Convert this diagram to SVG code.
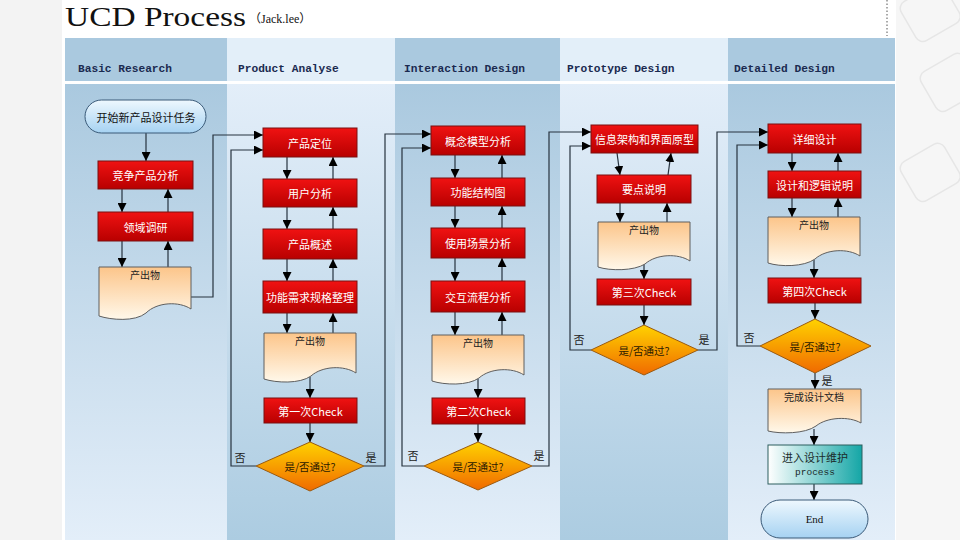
<svg xmlns="http://www.w3.org/2000/svg" width="960" height="540" viewBox="0 0 960 540">
<defs>
<linearGradient id="red" x1="0" y1="0" x2="0" y2="1"><stop offset="0" stop-color="#f01212"/><stop offset="1" stop-color="#b80000"/></linearGradient>
<linearGradient id="doc" x1="0" y1="0" x2="0" y2="1"><stop offset="0" stop-color="#fcc58a"/><stop offset="1" stop-color="#fff8ea"/></linearGradient>
<linearGradient id="dia" x1="0" y1="0" x2="0" y2="1"><stop offset="0" stop-color="#ffd200"/><stop offset="1" stop-color="#f06a00"/></linearGradient>
<linearGradient id="term" x1="0" y1="0" x2="0" y2="1"><stop offset="0" stop-color="#eef8fe"/><stop offset="1" stop-color="#a6d2f2"/></linearGradient>
<linearGradient id="teal" x1="0" y1="0" x2="1" y2="0"><stop offset="0" stop-color="#ffffff"/><stop offset="1" stop-color="#14a6a6"/></linearGradient>
<linearGradient id="colA" x1="0" y1="0" x2="0" y2="1"><stop offset="0" stop-color="#aac9df"/><stop offset="1" stop-color="#e3eef9"/></linearGradient>
<linearGradient id="colB" x1="0" y1="0" x2="0" y2="1"><stop offset="0" stop-color="#e3eef9"/><stop offset="1" stop-color="#acccE1"/></linearGradient>
<marker id="ah" viewBox="0 0 10 10" refX="10" refY="5" markerWidth="9" markerHeight="9" markerUnits="userSpaceOnUse" orient="auto"><path d="M0,0 L10,5 L0,10 Z" fill="#000"/></marker>
<style>
.box{fill:url(#red);stroke:#7a1010;stroke-width:1}
.doc{fill:url(#doc);stroke:#5e5e5e;stroke-width:1}
.dia{fill:url(#dia);stroke:#9a5a10;stroke-width:1}
.term{fill:url(#term);stroke:#3a5a78;stroke-width:1}
.bt{fill:#fff;font-family:"Noto Sans CJK SC","Liberation Sans",sans-serif;font-size:11px;text-anchor:middle;dominant-baseline:central}
.dt{fill:#222;font-family:"Noto Sans CJK SC","Liberation Sans",sans-serif;font-size:10px;text-anchor:middle}
.kt{fill:#2a1a00;font-family:"Noto Sans CJK SC","Liberation Sans",sans-serif;font-size:10.5px;text-anchor:middle;dominant-baseline:central}
.lb{fill:#222;font-family:"Noto Sans CJK SC","Liberation Sans",sans-serif;font-size:11px;text-anchor:middle}
.hd{fill:#1a2a50;font-family:"Liberation Mono",monospace;font-size:11.2px;font-weight:bold}
.a{fill:none;stroke:#26323e;stroke-width:1.2;marker-end:url(#ah)}
</style>
</defs>

<!-- page background -->
<rect x="0" y="0" width="960" height="540" fill="#ffffff"/>
<rect x="0" y="0" width="62" height="540" fill="#f3f3f3"/>
<rect x="896" y="0" width="64" height="540" fill="#f6f6f6"/>
<g fill="none" stroke="#e6e6e6" stroke-width="1.5">
<rect x="905" y="-10" width="50" height="45" rx="8" transform="rotate(-30 930 12)"/>
<rect x="925" y="60" width="50" height="45" rx="8" transform="rotate(-30 950 82)"/>
<rect x="905" y="150" width="50" height="45" rx="8" transform="rotate(-30 930 172)"/>
</g>
<line x1="887" y1="0" x2="887" y2="36" stroke="#555" stroke-width="1" stroke-dasharray="1.5,2"/>

<!-- title -->
<text x="65" y="26" font-family="Liberation Serif,serif" font-size="28" fill="#111" textLength="181" lengthAdjust="spacingAndGlyphs">UCD Process</text>
<text x="249" y="23" font-family="Liberation Serif,'Noto Sans CJK SC',serif" font-size="12" fill="#111">（Jack.lee）</text>

<!-- swimlanes -->
<g id="lanes">
<rect x="65" y="38" width="162" height="43" fill="#aac9df"/>
<rect x="227" y="38" width="168" height="43" fill="#e3eff9"/>
<rect x="395" y="38" width="165" height="43" fill="#aac9df"/>
<rect x="560" y="38" width="168" height="43" fill="#e3eff9"/>
<rect x="728" y="38" width="167" height="43" fill="#aac9df"/>
<rect x="65" y="84" width="162" height="456" fill="url(#colA)"/>
<rect x="227" y="84" width="168" height="456" fill="url(#colB)"/>
<rect x="395" y="84" width="165" height="456" fill="url(#colA)"/>
<rect x="560" y="84" width="168" height="456" fill="url(#colB)"/>
<rect x="728" y="84" width="167" height="456" fill="url(#colA)"/>
<text class="hd" x="78" y="72">Basic Research</text>
<text class="hd" x="238" y="72">Product Analyse</text>
<text class="hd" x="404" y="72">Interaction Design</text>
<text class="hd" x="567" y="72">Prototype Design</text>
<text class="hd" x="734" y="72">Detailed Design</text>
</g>

<!-- connectors -->
<g id="connectors">
<path class="a" d="M146,133 V161"/>
<path class="a" d="M122,189 V212"/>
<path class="a" d="M168,212 V189"/>
<path class="a" d="M122,241 V267"/>
<path class="a" d="M168,267 V241"/>
<path class="a" d="M191,297 H213 V135 H263"/>

<path class="a" d="M287,157 V179"/>
<path class="a" d="M333,179 V157"/>
<path class="a" d="M287,207 V229"/>
<path class="a" d="M333,229 V207"/>
<path class="a" d="M287,259 V281"/>
<path class="a" d="M333,281 V259"/>
<path class="a" d="M287,313 V333"/>
<path class="a" d="M333,333 V313"/>
<path class="a" d="M310,377 V398"/>
<path class="a" d="M310,423 V442"/>
<path class="a" d="M256,466 H231 V150 H263"/>
<path class="a" d="M364,466 H385 V134 H431"/>

<path class="a" d="M455,155 V178"/>
<path class="a" d="M502,178 V155"/>
<path class="a" d="M455,206 V228"/>
<path class="a" d="M502,228 V206"/>
<path class="a" d="M455,258 V281"/>
<path class="a" d="M502,281 V258"/>
<path class="a" d="M455,312 V335"/>
<path class="a" d="M502,335 V312"/>
<path class="a" d="M478,379 V398"/>
<path class="a" d="M478,424 V442"/>
<path class="a" d="M424,466 H402 V148 H431"/>
<path class="a" d="M532,466 H549 V132 H591"/>

<path class="a" d="M617,153 L620,175"/>
<path class="a" d="M668,175 L671,153"/>
<path class="a" d="M620,203 V222"/>
<path class="a" d="M667,222 V203"/>
<path class="a" d="M644,264 V279"/>
<path class="a" d="M644,305 V325"/>
<path class="a" d="M591,350 H570 V146 H591"/>
<path class="a" d="M698,350 H717 V132 H768"/>

<path class="a" d="M792,153 V171"/>
<path class="a" d="M838,171 V153"/>
<path class="a" d="M792,198 V217"/>
<path class="a" d="M838,217 V198"/>
<path class="a" d="M814,260 V278"/>
<path class="a" d="M815,303 V319"/>
<path class="a" d="M760,346 H737 V145 H768"/>
<path class="a" d="M815,373 V389"/>
<path class="a" d="M814,429 V445"/>
<path class="a" d="M814,484 V500"/>

<text class="lb" x="240" y="462">否</text>
<text class="lb" x="371" y="462">是</text>
<text class="lb" x="413" y="460">否</text>
<text class="lb" x="539" y="460">是</text>
<text class="lb" x="579" y="344">否</text>
<text class="lb" x="704" y="344">是</text>
<text class="lb" x="749" y="342">否</text>
<text class="lb" x="827" y="385">是</text>
</g>

<!-- column 1 -->
<g id="start"><rect class="term" x="85" y="100" width="121" height="33" rx="16.5"/><text x="146" y="117" fill="#111" font-family="Noto Sans CJK SC,sans-serif" font-size="11" text-anchor="middle" dominant-baseline="central">开始新产品设计任务</text></g>
<g id="n_jingzheng"><rect class="box" x="98" y="161" width="95" height="28"/><text class="bt" x="145.5" y="175">竞争产品分析</text></g>
<g id="n_lingyu"><rect class="box" x="98" y="212" width="95" height="29"/><text class="bt" x="145.5" y="226.5">领域调研</text></g>
<g id="d_out1"><path class="doc" transform="translate(99,267)" d="M0,0 H92 V42 C80,34 58,35 47,46 C36,55 12,53 0,49 Z"/><text class="dt" x="145" y="279">产出物</text></g>

<!-- column 2 -->
<g id="n_dingwei"><rect class="box" x="263" y="128" width="94" height="29"/><text class="bt" x="310" y="142.5">产品定位</text></g>
<g id="n_yonghu"><rect class="box" x="263" y="179" width="94" height="28"/><text class="bt" x="310" y="193">用户分析</text></g>
<g id="n_gaishu"><rect class="box" x="263" y="229" width="94" height="30"/><text class="bt" x="310" y="244">产品概述</text></g>
<g id="n_guige"><rect class="box" x="263" y="281" width="94" height="32"/><text class="bt" x="310" y="297">功能需求规格整理</text></g>
<g id="d_out2"><path class="doc" transform="translate(264,333)" d="M0,0 H92 V40 C80,32 58,33 47,43 C36,51 12,50 0,46 Z"/><text class="dt" x="310" y="345">产出物</text></g>
<g id="n_check1"><rect class="box" x="264" y="398" width="93" height="25"/><text class="bt" x="310.5" y="410.5">第一次Check</text></g>
<g id="q1"><path class="dia" d="M310,442 L364,466 L310,491 L256,466 Z"/><text class="kt" x="310" y="466">是/否通过?</text></g>

<!-- column 3 -->
<g id="n_gainian"><rect class="box" x="431" y="126" width="94" height="29"/><text class="bt" x="478" y="140.5">概念模型分析</text></g>
<g id="n_jiegou"><rect class="box" x="431" y="178" width="94" height="28"/><text class="bt" x="478" y="192">功能结构图</text></g>
<g id="n_changjing"><rect class="box" x="431" y="228" width="94" height="30"/><text class="bt" x="478" y="243">使用场景分析</text></g>
<g id="n_liucheng"><rect class="box" x="431" y="281" width="94" height="31"/><text class="bt" x="478" y="296.5">交互流程分析</text></g>
<g id="d_out3"><path class="doc" transform="translate(432,335)" d="M0,0 H92 V40 C80,32 58,33 47,43 C36,51 12,50 0,46 Z"/><text class="dt" x="478" y="347">产出物</text></g>
<g id="n_check2"><rect class="box" x="432" y="398" width="93" height="26"/><text class="bt" x="478.5" y="411">第二次Check</text></g>
<g id="q2"><path class="dia" d="M478,442 L532,466 L478,490 L424,466 Z"/><text class="kt" x="478" y="466">是/否通过?</text></g>

<!-- column 4 -->
<g id="n_xinxi"><rect class="box" x="591" y="125" width="107" height="28"/><text class="bt" x="644.5" y="139">信息架构和界面原型</text></g>
<g id="n_yaodian"><rect class="box" x="597" y="175" width="94" height="28"/><text class="bt" x="644" y="189">要点说明</text></g>
<g id="d_out4"><path class="doc" transform="translate(598,222)" d="M0,0 H92 V39 C80,31 58,32 47,42 C36,49 12,49 0,45 Z"/><text class="dt" x="644" y="234">产出物</text></g>
<g id="n_check3"><rect class="box" x="597" y="279" width="94" height="26"/><text class="bt" x="644" y="292">第三次Check</text></g>
<g id="q3"><path class="dia" d="M644,325 L698,350 L644,375 L591,350 Z"/><text class="kt" x="644" y="350">是/否通过?</text></g>

<!-- column 5 -->
<g id="n_xiangxi"><rect class="box" x="768" y="124" width="93" height="29"/><text class="bt" x="814.5" y="138.5">详细设计</text></g>
<g id="n_luoji"><rect class="box" x="768" y="171" width="93" height="27"/><text class="bt" x="814.5" y="184.5">设计和逻辑说明</text></g>
<g id="d_out5"><path class="doc" transform="translate(768,217)" d="M0,0 H92 V39 C80,31 58,32 47,42 C36,50 12,50 0,46 Z"/><text class="dt" x="814" y="229">产出物</text></g>
<g id="n_check4"><rect class="box" x="768" y="278" width="93" height="25"/><text class="bt" x="814.5" y="290.5">第四次Check</text></g>
<g id="q4"><path class="dia" d="M815,319 L871,346 L815,373 L760,346 Z"/><text class="kt" x="815" y="346">是/否通过?</text></g>
<g id="d_done"><path class="doc" transform="translate(768,389)" d="M0,0 H93 V34 C81,27 59,28 48,37 C37,45 12,45 0,42 Z"/><text class="dt" x="814" y="401">完成设计文档</text></g>
<g id="n_weihu"><rect x="768" y="445" width="94" height="39" fill="url(#teal)" stroke="#2c5e5e" stroke-width="1"/><text x="815" y="462" fill="#1a2a2a" font-family="Noto Sans CJK SC,sans-serif" font-size="11" text-anchor="middle">进入设计维护</text><text x="815" y="475" fill="#1a2a2a" font-family="Liberation Mono,monospace" font-size="9.5" text-anchor="middle">process</text></g>
<g id="end"><rect class="term" x="761" y="500" width="107" height="38" rx="19"/><text x="814.5" y="519" fill="#111" font-family="Liberation Serif,serif" font-size="11" text-anchor="middle" dominant-baseline="central">End</text></g>
</svg>
